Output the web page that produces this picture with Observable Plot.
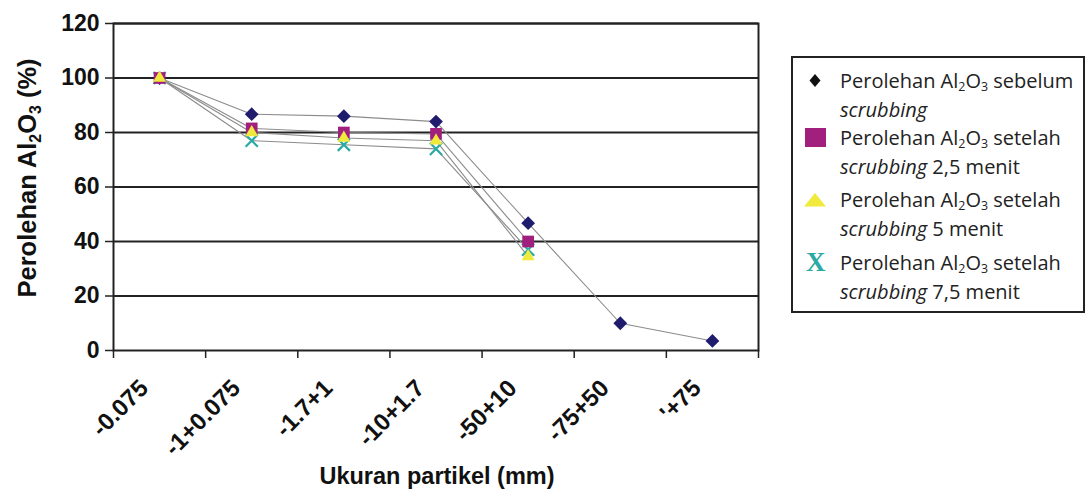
<!DOCTYPE html>
<html>
<head>
<meta charset="utf-8">
<script src="https://cdn.jsdelivr.net/npm/d3@7"></script>
<script src="https://cdn.jsdelivr.net/npm/@observablehq/plot@0.6"></script>
<style>
  html, body { margin: 0; padding: 0; background: #fff; }
  #wrap { position: relative; width: 1090px; height: 495px; font-family: "Liberation Sans", Arial, sans-serif; }
  #chart { position: absolute; left: 0; top: 0; }
  .ytitle { position: absolute; left: 27px; top: 178px; transform: translate(-50%, -50%) rotate(-90deg); white-space: nowrap; font-weight: bold; font-size: 25.5px; color: #111; }
  .xtitle { position: absolute; left: 437px; top: 463px; transform: translateX(-50%); white-space: nowrap; font-weight: bold; font-size: 23.5px; color: #111; }
  .sub { font-size: 0.62em; position: relative; top: 0.3em; }
  #legend { position: absolute; left: 791px; top: 56px; width: 290px; height: 253px; border: 2px solid #222; font-family: "Open Sans", sans-serif; font-size: 20px; color: #222; }
  .item { position: absolute; left: 0; width: 100%; }
  .item .ln { height: 29px; line-height: 29px; padding-left: 47px; white-space: nowrap; }
  .item svg { position: absolute; left: 0; top: 0; }
  .item .xsym { position: absolute; left: 13px; top: 0px; font-family: "Liberation Serif", serif; font-weight: bold; font-size: 27px; line-height: 29px; color: #2aaaa5; }
</style>
</head>
<body>
<div id="wrap">
  <div id="chart"></div>
  <div class="ytitle">Perolehan Al<span class="sub">2</span>O<span class="sub">3</span> (%)</div>
  <div class="xtitle">Ukuran partikel (mm)</div>
  <div id="legend"></div>
</div>
<script>
// Particle size fractions (mm)
const categories = ["-0.075", "-1+0.075", "-1.7+1", "-10+1.7", "-50+10", "-75+50", "'+75"];

// Al2O3 recovery (%) per fraction
const beforeScrub = [100, 86.7, 86, 84, 46.7, 10, 3.5];
const scrub25 = [100, 81.5, 80, 79.5, 40];
const scrub5 = [100, 80, 78, 77, 34.5];
const scrub75 = [100, 77, 75.5, 74, 37];

const yTicks = [0, 20, 40, 60, 80, 100, 120];

const seriesNames = ["sebelum", "2,5", "5", "7,5"];
const seriesValues = [beforeScrub, scrub25, scrub5, scrub75];

const rows = seriesValues.flatMap((vals, s) =>
  vals.map((v, i) => ({series: seriesNames[s], i, v})));
const bySeries = name => rows.filter(d => d.series === name);

const catIdx = categories.map((_, i) => i);
const bounds = d3.range(-0.5, categories.length, 1);

const chart = Plot.plot({
  width: 790,
  height: 495,
  marginLeft: 113,
  marginRight: 32,
  marginTop: 23,
  marginBottom: 145,
  style: {fontFamily: "'Liberation Sans', Arial, sans-serif", color: "#111", background: "#fff"},
  x: {type: "linear", domain: [-0.5, categories.length - 0.5], axis: null},
  y: {domain: [0, 120], axis: null},
  marks: [
    Plot.ruleY(yTicks.filter(t => t > 0), {stroke: "#222", strokeWidth: 2}),
    Plot.line(rows, {x: "i", y: "v", z: "series", stroke: "#8c8c8c", strokeWidth: 1.1}),
    Plot.dot(bySeries("7,5"), {x: "i", y: "v", symbol: "times", stroke: "#2aaaa5", strokeWidth: 2.2, r: 5.6}),
    Plot.dot(bySeries("sebelum"), {x: "i", y: "v", symbol: "diamond2", fill: "#1f1c6e", r: 6.2}),
    Plot.dot(bySeries("2,5"), {x: "i", y: "v", symbol: "square", fill: "#a1207d", r: 6.6}),
    Plot.dot(bySeries("5"), {x: "i", y: "v", symbol: "triangle", fill: "#f0ea3c", r: 4.8}),
    Plot.frame({stroke: "#222", strokeWidth: 2}),
    Plot.axisY({ticks: yTicks, tickSize: 8, tickPadding: 6, fontSize: 23, fontWeight: "bold", label: null, stroke: "#222", strokeWidth: 1.5}),
    Plot.axisX({ticks: bounds, tickSize: 8, tickFormat: () => "", label: null, stroke: "#222", strokeWidth: 1.5}),
    Plot.text(catIdx, {
      x: d => d, y: () => 0, text: d => categories[d],
      rotate: -45, textAnchor: "end", lineAnchor: "top",
      dx: -22, dy: 27, fontSize: 24, fontWeight: "bold", fill: "#111"
    })
  ]
});
document.getElementById("chart").appendChild(chart);

// Legend
const legendItems = [
  {sym: "diamond", top: 7.5, l1: "Perolehan Al<span class='sub'>2</span>O<span class='sub'>3</span> sebelum", l2: "<i>scrubbing</i>"},
  {sym: "square", top: 64.5, l1: "Perolehan Al<span class='sub'>2</span>O<span class='sub'>3</span> setelah", l2: "<i>scrubbing</i> 2,5 menit"},
  {sym: "triangle", top: 126.5, l1: "Perolehan Al<span class='sub'>2</span>O<span class='sub'>3</span> setelah", l2: "<i>scrubbing</i> 5 menit"},
  {sym: "x", top: 189.5, l1: "Perolehan Al<span class='sub'>2</span>O<span class='sub'>3</span> setelah", l2: "<i>scrubbing</i> 7,5 menit"}
];
const symSvg = {
  diamond: "<svg width='44' height='29'><polygon points='22,8 27.5,14.5 22,21 16.5,14.5' fill='#111'/></svg>",
  square: "<svg width='44' height='29'><rect x='12' y='5' width='21' height='19' fill='#a1207d'/></svg>",
  triangle: "<svg width='44' height='29'><polygon points='22,8 33,21.5 11,21.5' fill='#f0ea3c'/></svg>",
  x: "<span class='xsym'>X</span>"
};
const legend = document.getElementById("legend");
for (const it of legendItems) {
  const div = document.createElement("div");
  div.className = "item";
  div.style.top = it.top + "px";
  div.innerHTML = symSvg[it.sym] + `<div class="ln">${it.l1}</div><div class="ln">${it.l2}</div>`;
  legend.appendChild(div);
}
</script>
</body>
</html>
